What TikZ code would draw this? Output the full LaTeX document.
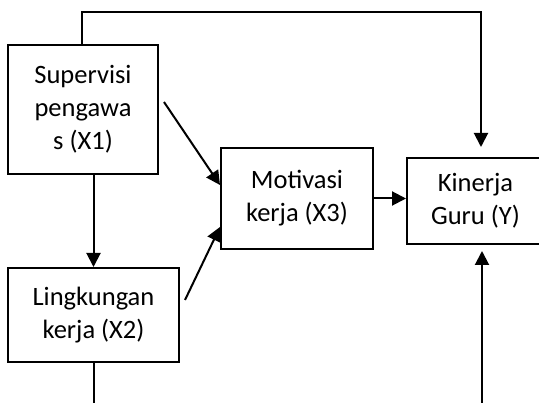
\documentclass[tikz,border=0pt]{standalone}
\usepackage{fontspec}
\setmainfont{Carlito}
\usetikzlibrary{arrows.meta}
\tikzset{
  box/.style={draw=black, line width=2pt, align=center, inner sep=0pt,
    font=\fontsize{26.5pt}{33pt}\selectfont},
  arr/.style={line width=2pt, -{Triangle[length=14pt,width=14pt]}}
}
\begin{document}
\begin{tikzpicture}[x=1pt, y=-1pt]
            \path[use as bounding box, clip] (0,0) rectangle (539,403);
            \node[box, minimum width=150pt, minimum height=129pt] (X1) at (83,109.5) {Supervisi\\pengawa\\s (X1)};
            \node[box, minimum width=171pt, minimum height=94pt] (X2) at (93.5,315) {Lingkungan\\kerja (X2)};
            \node[box, minimum width=152pt, minimum height=101pt] (X3) at (297,198.5) {Motivasi\\kerja (X3)};
            \node[box, minimum width=137pt, minimum height=86pt] (Y) at (475.5,201) {Kinerja\\Guru (Y)};
            \coordinate (TL) at (82,12);
            \coordinate (TR) at (481,12);
            \coordinate (BR) at (482,405);
            \coordinate (BL) at (93.5,405);
            \draw[arr, shorten >=10pt] (X1.north -| TL) -- (TL) -- (TR) -- (TR |- Y.north);
            \draw[arr] (X1.south -| X2.north) -- (X2.north);
            \draw[line width=2pt] (X2.south) -- (BL);
            \draw[arr, shorten >=6pt] (BR) -- (BR |- Y.south);
            \draw[arr] ([xshift=5pt, yshift=7.5pt]X1.east) -- ([yshift=13.5pt]X3.west);
            \draw[arr] ([xshift=5pt, yshift=15pt]X2.east) -- ([yshift=-28.5pt]X3.west);
            \draw[arr] (X3.east) -- (X3.east -| Y.west);
        \end{tikzpicture}
\end{document}
